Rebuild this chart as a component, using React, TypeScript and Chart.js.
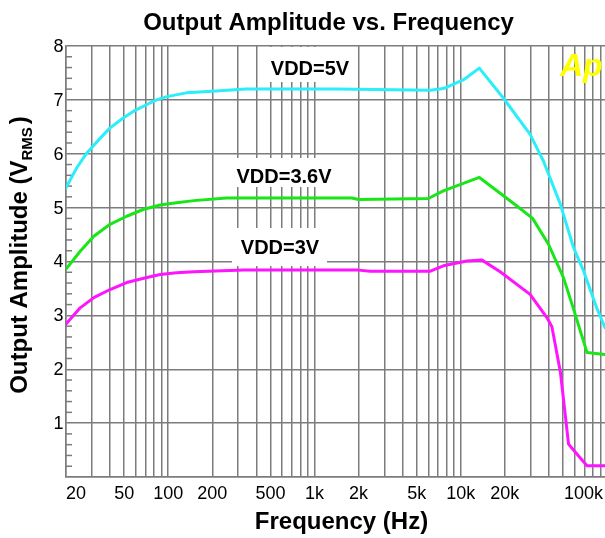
import React, { useEffect, useRef } from 'react';
import { Chart, registerables } from 'chart.js';

Chart.register(...registerables);

// ---- data ----
const freq5V = [20, 23.7, 27.7, 34.3, 40, 49, 58, 71, 83, 98, 133, 200, 340, 1400, 6200, 7600, 10400, 13400, 19600, 29800, 36800, 47900, 59000, 69000, 85000, 97000];
const amp5V = [5.37, 5.74, 6.01, 6.29, 6.48, 6.66, 6.79, 6.91, 7.0, 7.06, 7.13, 7.16, 7.2, 7.2, 7.18, 7.21, 7.37, 7.59, 7.03, 6.36, 5.86, 5.07, 4.26, 3.83, 3.14, 2.77];

const freq3V6 = [20, 25, 31, 40, 52, 68, 88, 114, 150, 250, 1800, 2000, 6000, 7600, 13400, 19600, 24200, 31000, 39800, 50400, 59000, 73000, 100000];
const amp3V6 = [3.86, 4.19, 4.47, 4.69, 4.84, 4.97, 5.05, 5.09, 5.13, 5.18, 5.18, 5.15, 5.17, 5.31, 5.56, 5.22, 5.03, 4.8, 4.32, 3.7, 3.12, 2.31, 2.27];

const freq3V = [20, 25, 31, 40, 52, 68, 88, 114, 150, 330, 2000, 2400, 6200, 7600, 11000, 13900, 18600, 29800, 38800, 42000, 48000, 54600, 59000, 73000, 100000];
const amp3V = [2.84, 3.14, 3.33, 3.48, 3.61, 3.69, 3.76, 3.79, 3.81, 3.84, 3.84, 3.82, 3.82, 3.92, 4.01, 4.03, 3.81, 3.39, 2.96, 2.79, 1.95, 0.61, 0.5, 0.21, 0.21];

const seriesNames = ['VDD=5V', 'VDD=3.6V', 'VDD=3V'];
const seriesColors = ['#2aeefa', '#19e619', '#ff14ff'];

const xTickValues = [20, 50, 100, 200, 500, 1000, 2000, 5000, 10000, 20000, 100000];
const xTickLabels = ['20', '50', '100', '200', '500', '1k', '2k', '5k', '10k', '20k', '100k'];
const yTickValues = [1, 2, 3, 4, 5, 6, 7, 8];

const chartTitle = 'Output Amplitude vs. Frequency';
const xTitle = 'Frequency (Hz)';
const yTitleMain = 'Output Amplitude (V';
const yTitleSub = 'RMS';
const yTitleEnd = ')';

// grid positions of a log axis: 1..9 x each decade
const gridFreqs: number[] = [];
for (const d of [10, 100, 1000, 10000]) {
  for (let m = 1; m <= 9; m++) {
    const v = m * d;
    if (v >= 20) gridFreqs.push(v);
  }
}
gridFreqs.push(100000);

const FONT = '"Liberation Sans", Arial, Helvetica, sans-serif';
const GRID = '#7c7c7c';

const decorPlugin = {
  id: 'decor',
  beforeDatasetsDraw(chart: any) {
    const { ctx, chartArea, scales } = chart;
    const y = scales.y;
    ctx.save();
    // minor y ticks
    ctx.strokeStyle = GRID;
    ctx.lineWidth = 1.5;
    for (let i = 1; i < 40; i++) {
      if (i % 5 === 0) continue;
      const py = y.getPixelForValue(i * 0.2);
      ctx.beginPath();
      ctx.moveTo(chartArea.left, py);
      ctx.lineTo(chartArea.left + 6, py);
      ctx.stroke();
    }
    // white label boxes
    ctx.fillStyle = '#ffffff';
    ctx.fillRect(259, 47, 97, 35);
    ctx.fillRect(232, 158, 102, 29);
    ctx.fillRect(232, 228, 95, 38);
    ctx.restore();
  },
  afterDraw(chart: any) {
    const { ctx, chartArea, scales } = chart;
    const x = scales.x;
    const y = scales.y;
    ctx.save();
    ctx.fillStyle = '#000';
    // x tick labels
    ctx.font = `18px ${FONT}`;
    ctx.textBaseline = 'alphabetic';
    ctx.textAlign = 'left';
    xTickValues.forEach((v, i) => {
      const t = xTickLabels[i];
      const w = ctx.measureText(t).width;
      let lx = x.getPixelForValue(v) - w / 2;
      lx = Math.max(chartArea.left, Math.min(603 - w, lx));
      ctx.fillText(t, lx, 499);
    });
    // y tick labels
    ctx.textAlign = 'right';
    ctx.textBaseline = 'middle';
    yTickValues.forEach((v) => {
      ctx.fillText(String(v), 63.5, y.getPixelForValue(v) + 1);
    });
    // series labels
    ctx.font = `bold 20px ${FONT}`;
    ctx.textAlign = 'center';
    ctx.textBaseline = 'alphabetic';
    ctx.fillText(seriesNames[0], 310, 75);
    ctx.fillText(seriesNames[1], 284, 182.5);
    ctx.fillText(seriesNames[2], 280, 254);
    // titles
    ctx.font = `bold 24px ${FONT}`;
    ctx.fillText(chartTitle, 328.5, 29.5);
    ctx.fillText(xTitle, 341.5, 529);
    // y title rotated with subscript
    ctx.save();
    ctx.translate(27, 255);
    ctx.rotate(-Math.PI / 2);
    ctx.textAlign = 'left';
    ctx.font = `bold 24px ${FONT}`;
    const w1 = ctx.measureText(yTitleMain).width;
    const w3 = ctx.measureText(yTitleEnd).width;
    ctx.font = `bold 15px ${FONT}`;
    const w2 = ctx.measureText(yTitleSub).width;
    const total = w1 + w2 + w3 + 3;
    let sx = -total / 2;
    ctx.font = `bold 24px ${FONT}`;
    ctx.fillText(yTitleMain, sx, 0);
    sx += w1;
    ctx.font = `bold 15px ${FONT}`;
    ctx.fillText(yTitleSub, sx, 5);
    sx += w2 + 3;
    ctx.font = `bold 24px ${FONT}`;
    ctx.fillText(yTitleEnd, sx, 0);
    ctx.restore();
    // Ap logo
    ctx.font = `italic bold 32px ${FONT}`;
    ctx.fillStyle = '#ffff00';
    ctx.textAlign = 'left';
    ctx.fillText('Ap', 560, 76);
    ctx.restore();
  },
};

export default function App() {
  const ref = useRef<HTMLCanvasElement | null>(null);
  useEffect(() => {
    if (!ref.current) return;
    const mk = (fs: number[], as: number[]) => fs.map((f, i) => ({ x: f, y: as[i] }));
    const chart = new Chart(ref.current, {
      type: 'line',
      data: {
        datasets: [
          { label: seriesNames[0], data: mk(freq5V, amp5V), borderColor: seriesColors[0] },
          { label: seriesNames[1], data: mk(freq3V6, amp3V6), borderColor: seriesColors[1] },
          { label: seriesNames[2], data: mk(freq3V, amp3V), borderColor: seriesColors[2] },
        ].map((d) => ({
          ...d,
          borderWidth: 3,
          pointRadius: 0,
          tension: 0,
          fill: false,
          borderJoinStyle: 'round' as const,
          borderCapStyle: 'round' as const,
        })),
      },
      options: {
        animation: false,
        responsive: false,
        devicePixelRatio: 1,
        layout: { padding: { left: 66, top: 46, right: 3, bottom: 61 } },
        plugins: { legend: { display: false }, title: { display: false }, tooltip: { enabled: false } },
        scales: {
          x: {
            type: 'logarithmic',
            min: 20,
            max: 100000,
            afterBuildTicks: (s: any) => {
              s.ticks = gridFreqs.map((v) => ({ value: v }));
            },
            ticks: { display: false },
            grid: { color: GRID, lineWidth: 1.5, drawTicks: false },
            border: { display: true, color: GRID, width: 1.5 },
          },
          y: {
            type: 'linear',
            min: 0,
            max: 8,
            ticks: { display: false, stepSize: 1 },
            grid: { color: GRID, lineWidth: 1.5, drawTicks: false },
            border: { display: true, color: GRID, width: 1.5 },
          },
        },
      },
      plugins: [decorPlugin],
    });
    return () => chart.destroy();
  }, []);
  return (
    <div
      style={{
        position: 'fixed',
        left: 0,
        top: 0,
        width: 605,
        height: 538,
        overflow: 'hidden',
        background: '#ffffff',
      }}
    >
      <canvas ref={ref} width={610} height={538} style={{ display: 'block' }} />
    </div>
  );
}
